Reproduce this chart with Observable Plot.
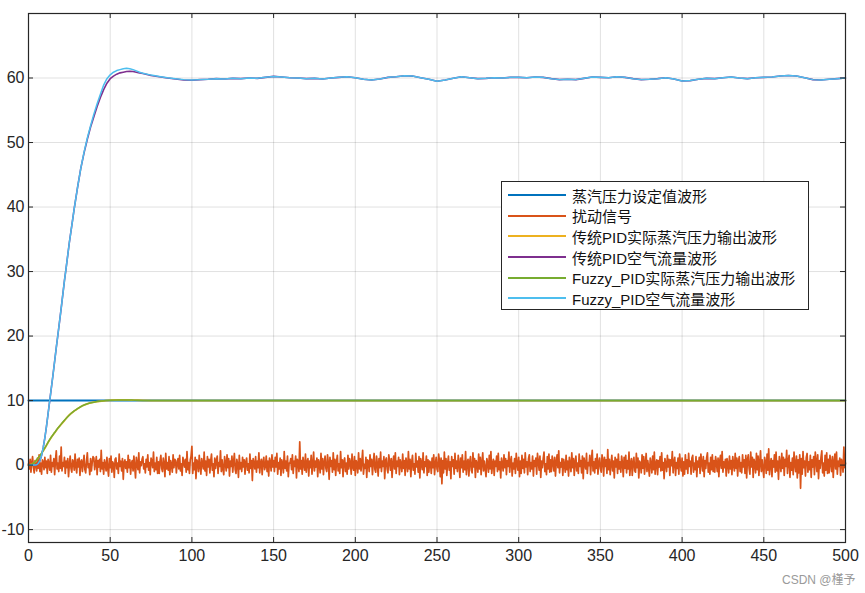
<!DOCTYPE html>
<html>
<head>
<meta charset="utf-8">
<script src="https://cdn.jsdelivr.net/npm/d3@7"></script>
<script src="https://cdn.jsdelivr.net/npm/@observablehq/plot@0.6"></script>
<style>
  html, body { margin: 0; padding: 0; background: #fff; }
  #wrap { position: relative; width: 865px; height: 593px; font-family: "Liberation Sans", Arial, "Noto Sans CJK SC", sans-serif; }
  #wrap > svg { position: absolute; left: 0; top: 0; }
  #legend { position: absolute; left: 501px; top: 181px; width: 306px; height: 124px; border: 1px solid #262626; background: #fff; font-size: 15px; color: #111; padding-top: 3px; }
  #legend .row { height: 20.6px; display: flex; align-items: center; white-space: nowrap; }
  #legend .row svg { display: block; margin-left: 6px; margin-right: 6px; flex: none; }
  #mark { position: absolute; left: 782px; top: 570px; font-size: 12px; color: #9a9a9a; font-family: "Liberation Sans", "Noto Sans CJK SC", sans-serif; }
</style>
</head>
<body>
<div id="wrap"></div>
<script>
// ---- tick labels ----
const xTicks = [0, 50, 100, 150, 200, 250, 300, 350, 400, 450, 500];
const yTicks = [-10, 0, 10, 20, 30, 40, 50, 60];

// ---- series names & colours ----
const seriesNames = ["蒸汽压力设定值波形", "扰动信号", "传统PID实际蒸汽压力输出波形", "传统PID空气流量波形", "Fuzzy_PID实际蒸汽压力输出波形", "Fuzzy_PID空气流量波形"];
const seriesColors = ["#0072BD", "#D95319", "#EDB120", "#7E2F8E", "#77AC30", "#4DBEEE"];

// ---- setpoint ----
const setX = [0, 500];
const setY = [10, 10];

// ---- disturbance signal: sample step 0.5, from 0 to 500 ----
const noiseStep = 0.5;
const noiseY = [
0.2,-0.6,0.9,-1.1,0.4,1.3,-0.3,-1.2,0.7,0.1,-0.9,1.1,-0.5,1.6,-1.0,0.3,-1.4,0.8,0.5,-0.7,
1.2,-0.4,0.6,-1.3,0.9,0.2,-0.8,1.5,-1.1,0.4,-0.2,1.0,-1.5,0.7,2.2,-0.6,0.3,-1.0,1.4,-0.5,
2.8,-0.9,0.4,-0.2,1.2,-1.3,0.6,-0.4,1.0,-1.8,0.1,1.4,-0.5,-1.1,0.8,0.5,-0.8,1.7,-0.2,-1.2,
0.9,-0.3,1.1,-1.6,0.5,0.8,-1.0,0.3,1.5,-0.7,-1.2,0.6,1.9,-0.4,0.2,-1.5,1.0,-0.9,0.4,1.3,
1.1,-0.7,0.2,1.3,-1.5,0.7,-0.3,0.9,-1.0,2.3,-0.6,0.4,-1.4,0.8,0.1,-0.9,1.2,-0.5,-1.7,1.0,
-0.4,1.4,-1.1,0.5,0.2,-1.9,0.9,1.1,-0.6,0.3,-1.3,1.7,-0.2,0.6,-0.9,1.0,-2.2,0.4,0.8,-0.5,
0.5,-1.1,1.5,-0.4,0.8,-1.4,0.3,0.7,-0.9,1.4,-0.2,-2.0,1.2,0.1,-0.7,1.9,-1.2,0.5,-0.1,0.9,
1.3,-0.6,0.2,-1.2,0.9,-0.3,1.6,-0.8,0.4,-1.5,1.1,0.6,-0.4,2.0,-1.0,0.3,-0.7,1.2,-1.3,0.5,
-1.3,0.6,1.5,-0.5,-1.0,1.1,0.2,-1.8,1.8,-0.6,0.4,-0.8,1.3,-1.5,0.7,0.1,-1.1,1.6,-0.4,0.9,
0.7,-1.2,0.3,1.0,-0.6,1.5,-0.9,0.2,-1.6,1.2,0.5,-0.3,0.9,-1.1,2.1,-0.7,0.4,-1.3,0.8,1.4,
2.9,-1.3,0.3,-0.7,1.2,-2.1,0.8,0.5,-1.0,1.5,-0.2,-1.4,1.0,0.2,-0.6,2.0,-0.9,0.6,-1.6,1.3,
-0.3,0.9,-1.2,0.6,1.7,-0.8,0.2,-1.8,1.1,-0.5,0.7,1.4,-1.3,0.4,-0.2,2.2,-1.0,0.8,-0.6,-1.5,
1.3,0.3,-0.9,1.6,-0.4,1.0,-1.7,0.6,-0.2,1.4,-1.1,0.5,1.8,-0.7,-1.3,0.9,0.2,-1.9,1.5,-0.6,
0.4,-1.0,1.2,-0.3,0.8,-1.4,0.5,1.1,-0.8,0.2,-1.2,1.7,-0.5,0.7,-2.4,1.0,0.3,-0.6,1.3,-1.1,
0.6,-0.4,1.9,-1.2,0.3,0.9,-1.5,0.5,1.2,-0.7,-0.2,1.4,-1.0,0.6,-1.7,1.1,0.4,-0.9,1.6,-0.3,
0.7,-1.0,1.2,-0.3,1.8,-1.4,0.4,-0.6,1.1,-1.6,0.8,0.2,-1.2,2.1,-0.5,0.6,-0.9,1.4,-1.8,0.3,
0.3,1.0,-0.7,1.6,-1.3,0.6,-0.2,1.4,-2.0,0.9,0.4,-1.0,3.6,-0.6,0.7,-1.4,1.2,0.1,-0.8,1.7,
-1.1,0.5,1.0,-1.7,0.6,-0.4,1.5,-1.4,0.2,2.0,-0.9,0.6,-0.3,1.1,-1.8,0.8,0.2,-1.2,1.8,-0.6,
1.0,-1.5,0.4,1.4,-0.5,-1.0,1.6,0.3,-2.2,1.2,-0.2,0.7,-1.1,1.9,-0.7,0.9,-1.6,0.5,1.5,-0.9,
0.2,-1.3,2.1,-0.4,0.8,-1.8,0.6,1.1,-1.0,0.3,-1.4,1.5,-0.6,1.0,0.4,-1.4,1.7,-0.3,-0.8,1.3,
-1.6,0.7,0.3,-1.2,1.9,-0.6,1.0,-0.9,0.5,2.3,-1.4,0.1,-0.5,1.2,-1.9,0.8,0.6,-1.0,1.6,-0.2,
0.9,-1.5,0.4,1.8,-0.7,-1.1,1.4,0.2,-1.7,1.0,-0.4,2.0,-1.0,0.6,-0.2,1.3,-2.1,0.7,1.1,-0.6,
-1.2,1.6,0.5,-0.8,1.0,-1.9,0.3,1.4,-0.6,1.9,-1.3,0.6,-0.2,1.2,-1.5,0.8,0.2,-1.0,1.7,-0.5,
0.7,-1.6,1.1,0.2,-1.0,2.1,-0.6,0.9,-1.8,0.4,1.5,-0.8,0.2,-1.4,1.8,-0.3,0.6,-1.1,1.3,-2.0,
1.0,0.3,-0.7,1.9,-1.2,0.5,-0.2,1.4,-1.6,0.8,-1.1,0.6,0.4,-1.3,1.1,-0.4,1.6,-1.5,0.2,1.2,
-0.6,-1.0,1.7,0.6,-1.8,1.1,-2.9,0.7,-1.2,2.0,-0.6,1.0,-1.6,0.3,1.4,-0.8,0.5,-2.1,1.3,-0.2,
0.8,-1.4,1.8,-0.5,0.6,-1.0,1.5,0.2,-1.9,1.1,-0.4,1.6,-1.1,0.6,-0.7,2.1,-1.5,0.4,0.9,-1.7,
0.5,1.3,-0.8,-1.2,1.9,-0.3,1.0,-1.9,0.7,0.2,-1.1,1.7,-0.6,1.2,-1.5,0.3,1.9,-0.9,0.6,-0.5,
-1.8,1.0,0.4,-1.1,1.5,-0.6,2.1,-1.3,0.2,0.9,-1.6,0.6,-0.2,1.4,-1.0,1.8,-0.7,0.5,-2.0,1.1,
0.2,-0.9,1.6,-0.4,1.0,-1.5,0.7,-0.2,2.0,-1.1,0.6,1.3,-1.7,0.3,-0.6,1.0,-1.3,1.8,0.1,-0.8,
1.2,-1.8,0.6,-1.3,1.5,-0.5,0.9,-1.2,1.9,-0.3,0.5,-1.5,1.0,1.6,-1.0,0.4,-0.6,1.4,-1.7,0.7,
-0.2,1.1,-1.4,1.8,0.5,-0.8,1.4,-1.9,0.6,-0.4,1.0,2.0,-1.0,0.2,-1.5,1.3,-0.6,1.7,-1.1,0.8,
-1.0,1.4,0.3,-0.9,1.2,-1.7,0.5,1.6,-0.4,2.2,-1.2,0.4,-0.3,1.0,-1.6,0.9,0.1,-1.1,1.5,-0.7,
0.6,-1.7,1.2,0.2,-1.0,1.9,-0.4,1.0,-1.6,0.5,1.4,-0.9,0.3,-1.3,1.7,-0.2,0.7,-1.2,1.4,-2.1,
1.1,0.2,-0.6,1.8,-1.3,0.4,-0.1,1.5,-1.5,0.7,2.3,-0.9,0.5,-1.2,1.0,-0.5,1.7,-1.4,0.3,1.1,
-0.5,-1.1,1.6,0.7,-1.7,1.2,-0.2,0.8,-1.3,2.4,-0.7,0.9,-1.5,0.2,1.5,-0.9,0.6,-2.0,1.2,-0.3,
0.9,-1.3,1.7,-0.6,0.5,-1.1,1.4,0.3,-1.8,1.2,-0.5,1.5,-1.2,0.7,-0.6,2.0,-1.6,0.3,1.0,-1.6,
0.4,1.2,-0.9,-1.1,1.8,-0.4,1.1,-2.0,0.6,0.3,-1.2,1.6,-0.5,1.3,-1.4,0.2,1.8,-1.0,0.7,-0.4,
-1.7,1.1,0.3,-1.2,1.4,-0.7,2.0,-1.4,0.3,0.8,-1.5,0.7,-0.3,1.3,-0.9,1.9,-0.8,0.4,-2.1,1.0,
0.3,-1.0,1.5,-0.3,0.9,-1.6,0.8,-0.1,2.1,-1.2,0.5,1.2,-1.6,0.4,-0.5,1.1,-1.4,1.7,0.2,-0.9,
1.1,-1.7,0.5,-1.4,1.6,-0.6,0.8,-1.3,1.8,-0.2,0.6,-1.4,1.1,1.5,-1.1,0.3,-0.7,1.3,-1.8,0.6,
-0.3,1.2,-1.3,1.7,0.4,-0.9,1.3,-1.8,0.7,-0.5,1.1,1.9,-1.1,0.3,-1.4,1.2,-0.7,1.6,-1.0,0.7,
-1.1,1.3,0.4,-1.0,1.1,-1.8,0.6,1.5,-0.5,2.1,-1.1,0.5,-0.4,0.9,-1.7,1.0,0.2,-1.2,1.4,-0.6,
0.7,-1.5,1.3,0.1,-0.9,1.8,-0.5,1.1,-1.7,0.6,1.3,-1.0,0.4,-1.2,1.6,-0.3,0.8,-1.3,1.5,-2.0,
0.8,1.6,-0.5,-1.4,2.0,-0.3,1.2,-1.9,0.9,0.3,-1.2,1.8,-0.7,1.4,-1.6,0.4,2.2,-1.0,0.8,-0.6,
-1.9,1.2,0.5,-1.3,1.7,-0.8,2.5,-1.5,0.2,1.0,-1.8,0.7,-0.3,1.6,-1.1,2.0,-0.9,0.6,-2.2,1.3,
0.3,-1.0,1.8,-0.5,1.2,-1.6,0.9,-0.2,2.3,-1.3,0.7,1.5,-1.9,0.4,-0.8,1.1,-1.5,2.0,0.1,-1.0,
1.4,-2.0,0.8,-1.2,1.6,-3.6,1.0,-1.4,2.1,-0.4,0.6,-1.7,1.2,1.8,-1.1,0.5,-0.7,1.5,-1.9,0.8,
-0.3,1.3,-1.5,2.0,0.6,-1.0,1.6,-2.1,0.7,-0.5,1.2,2.2,-1.2,0.3,-1.7,1.5,-0.8,1.9,-1.3,0.9,
-1.2,1.5,0.4,-1.0,1.3,-1.9,0.5,1.7,-0.6,2.0,-1.4,0.6,-0.2,1.1,-1.6,0.9,0.3,-1.1,2.8,-0.4,
0.3
];

// ---- steam pressure outputs ----
const outX      = [0, 2, 4, 6, 8, 10, 12, 14, 16, 18, 20, 22, 24, 26, 28, 30, 33, 36, 40, 45, 50, 55, 60, 65, 70, 80, 100, 500];
const pidOut    = [0, 0.1, 0.5, 1.1, 1.8, 2.6, 3.5, 4.3, 5.0, 5.7, 6.3, 6.9, 7.5, 8.0, 8.4, 8.75, 9.2, 9.5, 9.75, 9.93, 10.04, 10.1, 10.1, 10.06, 10.03, 10.0, 10.0, 10.0];
const fuzzyOut  = [0, 0.1, 0.5, 1.15, 1.85, 2.65, 3.55, 4.35, 5.05, 5.75, 6.35, 6.95, 7.5, 8.0, 8.4, 8.75, 9.2, 9.5, 9.75, 9.93, 10.04, 10.1, 10.1, 10.06, 10.03, 10.0, 10.0, 10.0];

// ---- air flow, transient part ----
const flowX     = [0, 2, 4, 5, 6, 7, 8, 9, 10, 11, 12, 13, 15, 17, 18, 20, 22, 23, 25, 27, 28, 30, 32, 34, 36, 38, 40, 42, 44, 46, 48, 50, 52, 54, 56, 58, 60, 62, 64, 66, 68, 70, 75, 80, 85, 90, 95, 100, 105];
const pidFlow   = [0, 0, 0, 0.05, 0.25, 0.7, 1.5, 2.7, 4.2, 6, 8, 10, 14, 18.2, 20.2, 24.3, 28.6, 30.5, 34.5, 38, 39.8, 43, 46, 48.4, 50.5, 52.4, 54.0, 55.6, 57.0, 58.2, 59.2, 59.9, 60.3, 60.6, 60.8, 60.9, 61.0, 61.05, 61.0, 60.9, 60.8, 60.7, 60.4, 60.2, 60.0, 59.85, 59.7, 59.65, 59.75];
const fuzzyFlow = [0, 0, 0, 0.05, 0.25, 0.7, 1.5, 2.7, 4.2, 6, 8, 10, 14, 18.2, 20.2, 24.3, 28.6, 30.5, 34.5, 38, 39.8, 43, 46, 48.5, 50.7, 52.6, 54.4, 56.0, 57.5, 58.9, 59.9, 60.5, 60.9, 61.15, 61.3, 61.45, 61.5, 61.45, 61.3, 61.1, 60.9, 60.75, 60.45, 60.25, 60.05, 59.9, 59.75, 59.7, 59.75];

// ---- air flow, steady part (110..500 every 5) ----
const steadyX = [110,115,120,125,130,135,140,145,150,155,160,165,170,175,180,185,190,195,200,205,210,215,220,225,230,235,240,245,250,255,260,265,270,275,280,285,290,295,300,305,310,315,320,325,330,335,340,345,350,355,360,365,370,375,380,385,390,395,400,405,410,415,420,425,430,435,440,445,450,455,460,465,470,475,480,485,490,495,500];
const steadyFlow = [59.8,59.9,59.85,59.95,59.9,60.0,59.95,60.1,60.25,60.15,60.05,60.0,59.9,59.95,59.85,60.0,60.1,60.2,60.05,59.8,59.7,59.85,60.1,60.2,60.35,60.3,60.05,59.8,59.5,59.7,59.95,60.2,60.05,59.9,59.95,60.05,60.0,60.1,60.1,60.05,60.15,60.1,59.9,59.75,59.8,59.75,59.95,60.15,60.1,60.05,60.2,60.1,59.9,59.75,59.8,59.9,60.05,59.85,59.55,59.6,59.8,59.95,59.9,60.05,60.15,60.0,59.9,60.05,60.1,60.15,60.3,60.4,60.3,60.05,59.75,59.7,59.8,59.9,60.0];

// ---- build tables ----
const zip = (xs, ys) => xs.map((x, i) => ({x, y: ys[i]}));
const setData = zip(setX, setY);
const noiseData = noiseY.map((y, i) => ({x: i * noiseStep, y}));
const pidOutData = zip(outX, pidOut);
const fuzzyOutData = zip(outX, fuzzyOut);
const pidFlowData = zip(flowX, pidFlow).concat(zip(steadyX, steadyFlow));
const fuzzyFlowData = zip(flowX, fuzzyFlow).concat(zip(steadyX, steadyFlow));

const W = 865, H = 593, mL = 28, mR = 20, mT = 13, mB = 51;
const fw = W - mL - mR, fh = H - mT - mB;

const chart = Plot.plot({
  width: W, height: H,
  marginLeft: mL, marginRight: mR, marginTop: mT, marginBottom: mB,
  style: {fontSize: "16px", fontFamily: "'Liberation Sans', Arial, sans-serif", color: "#262626", background: "transparent", overflow: "visible"},
  x: {domain: [0, 500], ticks: xTicks, tickSize: 0, tickPadding: 7, label: null, tickFormat: d => String(d)},
  y: {domain: [-12, 70], ticks: yTicks, tickSize: 0, tickPadding: 4, label: null, tickFormat: d => String(d)},
  marks: [
    Plot.ruleX(xTicks, {stroke: "#000", strokeOpacity: 0.12}),
    Plot.ruleY(yTicks, {stroke: "#000", strokeOpacity: 0.12}),
    Plot.line(setData, {x: "x", y: "y", stroke: seriesColors[0], strokeWidth: 2}),
    Plot.line(noiseData, {x: "x", y: "y", stroke: seriesColors[1], strokeWidth: 1.7}),
    Plot.line(pidOutData, {x: "x", y: "y", stroke: seriesColors[2], strokeWidth: 1.8, curve: "monotone-x"}),
    Plot.line(pidFlowData, {x: "x", y: "y", stroke: seriesColors[3], strokeWidth: 1.6}),
    Plot.line(fuzzyOutData, {x: "x", y: "y", stroke: seriesColors[4], strokeWidth: 1.5, curve: "monotone-x"}),
    Plot.line(fuzzyFlowData, {x: "x", y: "y", stroke: seriesColors[5], strokeWidth: 1.5}),
    // inward tick marks on all four sides
    Plot.ruleX(xTicks, {stroke: "#262626", insetTop: fh - 5}),
    Plot.ruleX(xTicks, {stroke: "#262626", insetBottom: fh - 5}),
    Plot.ruleY(yTicks, {stroke: "#262626", insetRight: fw - 5}),
    Plot.ruleY(yTicks, {stroke: "#262626", insetLeft: fw - 5}),
    Plot.frame({stroke: "#262626", strokeWidth: 1.2})
  ]
});

const wrap = document.getElementById("wrap");
wrap.appendChild(chart);

// legend
const legend = document.createElement("div");
legend.id = "legend";
seriesNames.forEach((name, i) => {
  const row = document.createElement("div");
  row.className = "row";
  row.innerHTML = `<svg width="58" height="4"><line x1="0" y1="2" x2="58" y2="2" stroke="${seriesColors[i]}" stroke-width="1.8"/></svg><span>${name}</span>`;
  legend.appendChild(row);
});
wrap.appendChild(legend);

const mark = document.createElement("div");
mark.id = "mark";
mark.textContent = "CSDN @槿予";
wrap.appendChild(mark);
</script>
</body>
</html>
